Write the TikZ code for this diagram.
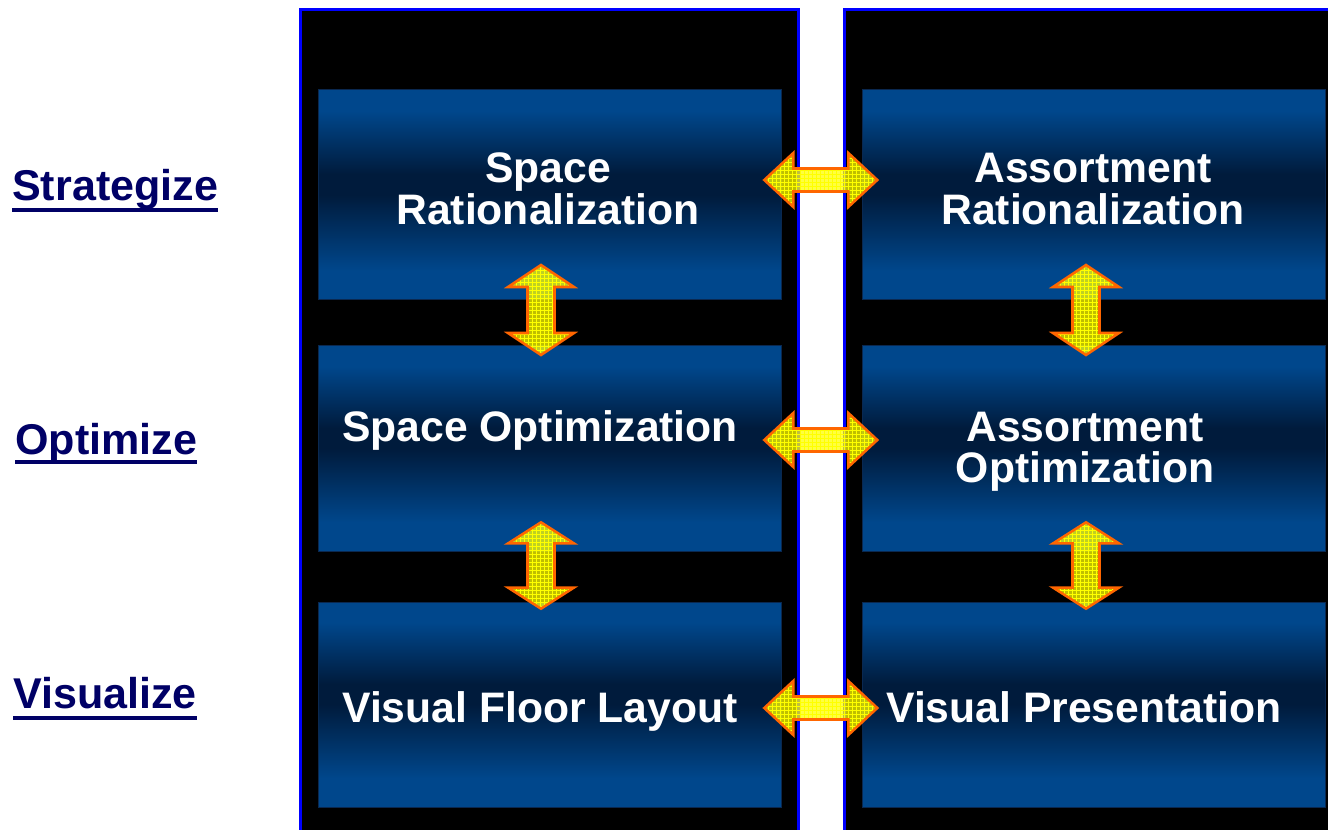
\documentclass[tikz,border=0pt]{standalone}
\usepackage{fontspec}
\setmainfont{Liberation Sans}
\usetikzlibrary{patterns,calc}

\definecolor{navytext}{RGB}{0,0,102}
\definecolor{frameblue}{RGB}{0,0,255}
\definecolor{panelblue}{RGB}{0,71,140}
\definecolor{paneldark}{RGB}{0,27,60}
\definecolor{paneledge}{RGB}{10,40,80}
\definecolor{arroworange}{RGB}{255,102,0}
\definecolor{arrowyellow}{RGB}{255,255,0}

% 0bp is the bottom of a panel: light blue at top and bottom,
% broad dark band a little above the middle
\pgfdeclareverticalshading{panelshade}{100bp}{%
  color(0bp)=(panelblue); color(32bp)=(panelblue);
  color(50bp)=(paneldark); color(55bp)=(paneldark);
  color(70bp)=(panelblue); color(100bp)=(panelblue)}

\tikzset{
  column/.style={fill=black, draw=frameblue, line width=2.25pt},
  panel/.style={draw=paneledge, line width=0.75pt, shading=panelshade,
    inner sep=0pt, minimum width=347.25pt},
  paneltext/.style={text=white, align=center, inner sep=0pt,
    font=\bfseries\fontsize{32pt}{31.5pt}\selectfont},
  sidelabel/.style={text=navytext, inner sep=0pt, anchor=base west,
    font=\bfseries\fontsize{32.3pt}{32pt}\selectfont},
  underbar/.style={draw=navytext, line width=3.2pt},
  arrowbody/.style={preaction={fill=arrowyellow, fill opacity=0.75},
    pattern=grid, pattern color=arrowyellow,
    draw=arroworange, line width=1.9pt, line join=miter},
  harrow/.pic={\path[arrowbody] (-56.5,0) -- (-27.5,-27) -- (-27.5,-11.5)
    -- (27.5,-11.5) -- (27.5,-27) -- (56.5,0) -- (27.5,27) -- (27.5,11.5)
    -- (-27.5,11.5) -- (-27.5,27) -- cycle;},
  varrow/.pic={\path[arrowbody] (0,-45) -- (33,-23) -- (13.5,-23)
    -- (13.5,23) -- (33,23) -- (0,45) -- (-33,23) -- (-13.5,23)
    -- (-13.5,-23) -- (-33,-23) -- cycle;}
}

\begin{document}
\begin{tikzpicture}[x=0.75pt,y=-0.75pt]
\clip (0,0) rectangle (1328,830);
\fill[white] (0,0) rectangle (1328,830);

% two black columns with blue frames
\draw[column] (300.5,845) -- (300.5,9.5) -- (798.5,9.5) -- (798.5,845);
\draw[column] (844.5,845) -- (844.5,9.5) -- (1345,9.5) -- (1345,845);

% panels, left column
\node[panel, minimum height=157.5pt]  (sr) at (550,195) {};
\node[panel, minimum height=153.75pt] (so) at (550,448.5) {};
\node[panel, minimum height=153.75pt] (vf) at (550,704.5) {};
% panels, right column
\node[panel, minimum height=157.5pt]  (ar) at (1093.6,195) {};
\node[panel, minimum height=153.75pt] (ao) at (1093.6,448.5) {};
\node[panel, minimum height=153.75pt] (vp) at (1093.6,704.5) {};

% panel captions (base = baseline of the last line)
\node[paneltext, anchor=base] (srt) at (548,225) {Space\\Rationalization};
\node[paneltext, anchor=base] (sot) at (540,441) {Space Optimization};
\node[paneltext, anchor=base] (vft) at (540,722) {Visual Floor Layout};
\node[paneltext, anchor=base] (art) at (1093,225) {Assortment\\Rationalization};
\node[paneltext, anchor=base] (aot) at (1085,483) {Assortment\\Optimization};
\node[paneltext, anchor=base] (vpt) at (1084,722) {Visual Presentation};

% level labels
\node[sidelabel] (strat) at (12,201) {Strategize};
\node[sidelabel] (optim) at (15,455) {Optimize};
\node[sidelabel] (visu)  at (13,708) {Visualize};
\draw[underbar] ($(strat.base west)+(0,9)$) -- ($(strat.base east)+(0,9)$);
\draw[underbar] ($(optim.base west)+(0,7)$) -- ($(optim.base east)+(0,7)$);
\draw[underbar] ($(visu.base west)+(0,10)$) -- ($(visu.base east)+(0,10)$);

% links between the two columns
\pic at ($(sr.east)!0.5!(ar.west)+(-1,-15)$) {harrow};
\pic at ($(so.east)!0.5!(ao.west)+(-1,-8.5)$) {harrow};
\pic at ($(vf.east)!0.5!(vp.west)+(-1,3.5)$) {harrow};

% links down each column
\pic at ($(sr.south)!0.5!(so.north)+(-9,-13)$) {varrow};
\pic[yscale=0.96] at ($(so.south)!0.5!(vf.north)+(-9,-11)$) {varrow};
\pic at ($(ar.south)!0.5!(ao.north)+(-7.6,-13)$) {varrow};
\pic[yscale=0.96] at ($(ao.south)!0.5!(vp.north)+(-7.6,-11)$) {varrow};
\end{tikzpicture}
\end{document}
